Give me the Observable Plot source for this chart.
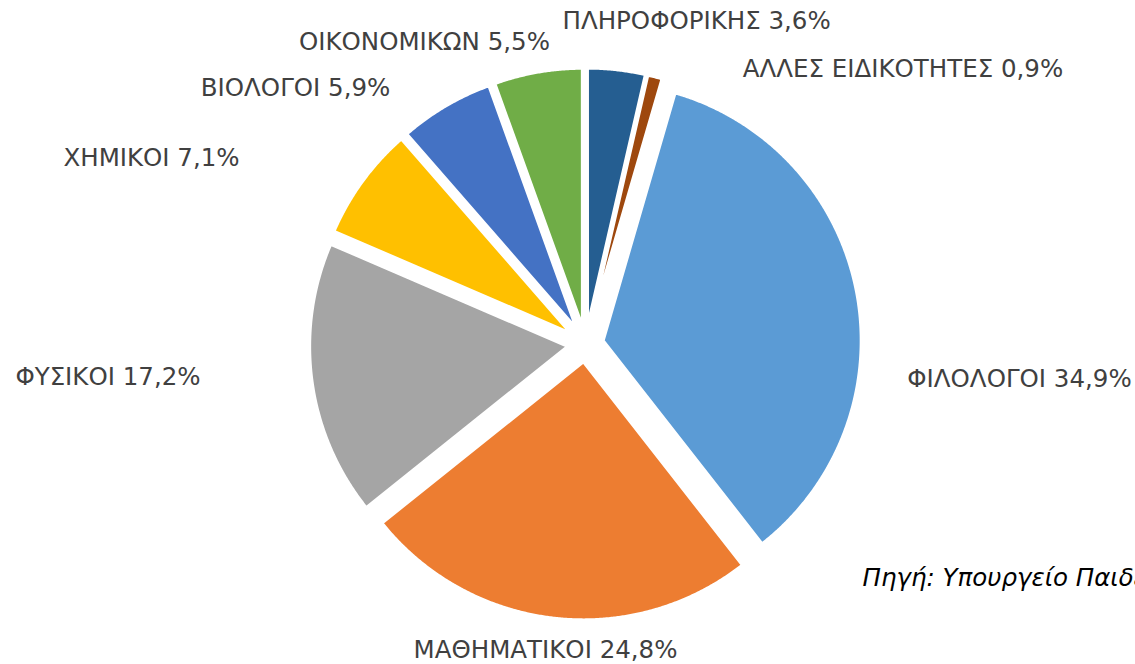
<!DOCTYPE html>
<html><head><meta charset="utf-8">
<script src="https://cdn.jsdelivr.net/npm/d3@7"></script>
<script src="https://cdn.jsdelivr.net/npm/@observablehq/plot@0.6"></script>
<style>
html,body{margin:0;padding:0;background:#fff;overflow:hidden}
#chart svg{overflow:hidden;display:block}
</style></head><body><div id="chart"></div>
<script>
// ---- data ----
const categories = ["ΦΙΛΟΛΟΓΟΙ","ΜΑΘΗΜΑΤΙΚΟΙ","ΦΥΣΙΚΟΙ","ΧΗΜΙΚΟΙ","ΒΙΟΛΟΓΟΙ","ΟΙΚΟΝΟΜΙΚΩΝ","ΠΛΗΡΟΦΟΡΙΚΗΣ","ΑΛΛΕΣ ΕΙΔΙΚΟΤΗΤΕΣ"];
const shares = [34.9, 24.8, 17.2, 7.1, 5.9, 5.5, 3.6, 0.9];
const sourceNote = "Πηγή: Υπουργείο Παιδείας";

// ---- style / layout ----
const colors = ["#5B9BD5","#ED7D31","#A5A5A5","#FFC000","#4472C4","#70AD47","#255E91","#9E480E"];
const W = 1135, H = 664;
const cx = 585, cy = 343.5, R = 258, explode = 18, firstSliceAngle = 16.2;
// manual label drags (px) relative to each slice's outer mid point
const labelNudge = [[163, 87], [-8, 32], [-204, -3.5], [-211, -23], [-150, -18], [-113.5, -29.6], [80, -49], [248, -8]];

const rows = categories.map((c, i) => ({cat: c, share: shares[i], i}));
const arcs = d3.pie().value(d => d.share).sort(null)
  .startAngle(firstSliceAngle * Math.PI / 180)
  .endAngle(firstSliceAngle * Math.PI / 180 + 2 * Math.PI)(rows);

const slicePts = [];
const labels = [];
for (const a of arcs) {
  const mid = (a.startAngle + a.endAngle) / 2;
  const tx = cx + explode * Math.sin(mid), ty = cy - explode * Math.cos(mid);
  slicePts.push({cat: a.data.cat, x: tx, y: ty});
  const n = Math.max(2, Math.ceil((a.endAngle - a.startAngle) / 0.005));
  for (let k = 0; k <= n; k++) {
    const t = a.startAngle + (a.endAngle - a.startAngle) * k / n;
    slicePts.push({cat: a.data.cat, x: tx + R * Math.sin(t), y: ty - R * Math.cos(t)});
  }
  const ox = cx + (R + explode) * Math.sin(mid), oy = cy - (R + explode) * Math.cos(mid);
  const [dx, dy] = labelNudge[a.data.i];
  labels.push({x: ox + dx, y: oy + dy,
    text: `${a.data.cat} ${a.data.share.toFixed(1).replace(".", ",")}%`});
}

const chart = Plot.plot({
  width: W, height: H, margin: 0,
  style: {background: "#fff"},
  x: {domain: [0, W], range: [0, W], axis: null},
  y: {domain: [0, H], range: [0, H], axis: null},
  color: {domain: categories, range: colors},
  marks: [
    Plot.line(slicePts, {x: "x", y: "y", z: "cat", fill: "cat", stroke: "white", strokeWidth: 3, curve: "linear-closed"}),
    Plot.text(labels, {x: "x", y: "y", text: "text", textAnchor: "middle", lineAnchor: "middle",
      fontSize: 24.5, fontFamily: "DejaVu Sans", fill: "#404040"}),
    Plot.text([sourceNote], {frameAnchor: "top-left", dx: 862, dy: 578, text: d => d, textAnchor: "start",
      lineAnchor: "middle", fontSize: 24.5, fontStyle: "italic", fontFamily: "DejaVu Sans", fill: "#000"})
  ]
});
document.getElementById("chart").appendChild(chart);
</script>
</body></html>
